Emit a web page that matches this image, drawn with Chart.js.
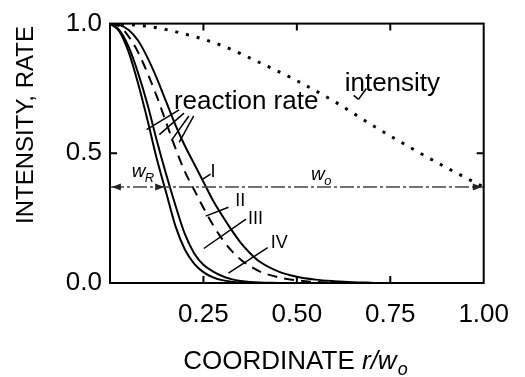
<!DOCTYPE html>
<html>
<head>
<meta charset="utf-8">
<script src="https://cdn.jsdelivr.net/npm/chart.js@4/dist/chart.umd.min.js"></script>
<style>
  html, body { margin: 0; padding: 0; background: #fff; }
  #wrap { width: 525px; height: 377px; position: relative; }
</style>
</head>
<body>
<div id="wrap"><canvas id="chart"></canvas></div>
<script>
/* reaction rate / intensity profiles vs r/w_o */

const rateX  = [0, 0.025, 0.05, 0.075, 0.1, 0.125, 0.15, 0.175, 0.2, 0.225, 0.25, 0.275, 0.3, 0.325, 0.35, 0.375, 0.4, 0.45, 0.5, 0.55, 0.6, 0.65, 0.7];
const rateI   = [1, 0.995, 0.975, 0.935, 0.87, 0.79, 0.70, 0.61, 0.53, 0.46, 0.39, 0.32, 0.26, 0.205, 0.155, 0.115, 0.083, 0.045, 0.024, 0.013, 0.007, 0.003, 0.001];
const rateII  = [1, 0.99, 0.95, 0.89, 0.81, 0.72, 0.62, 0.52, 0.43, 0.36, 0.29, 0.225, 0.17, 0.125, 0.09, 0.065, 0.045, 0.022, 0.01, 0.004, 0.001];
const rateIII = [1, 0.975, 0.91, 0.81, 0.69, 0.55, 0.42, 0.30, 0.19, 0.115, 0.07, 0.045, 0.027, 0.015, 0.008, 0.004, 0.002, 0];
const rateIV  = [1, 0.97, 0.89, 0.77, 0.63, 0.48, 0.35, 0.22, 0.13, 0.075, 0.042, 0.022, 0.011, 0.005, 0.002, 0.001, 0];

const intensityX = [0, 0.1, 0.2, 0.3, 0.4, 0.5, 0.6, 0.7, 0.8, 0.9, 1.0];
const intensity  = [1.0, 0.99, 0.96, 0.915, 0.85, 0.78, 0.70, 0.61, 0.525, 0.445, 0.37];

const levelX = [0, 1];
const level  = [0.37, 0.37];
const wR = 0.145;

const xTicks = [0.25, 0.5, 0.75, 1.0];
const yTicks = [0, 0.5, 1.0];

const FONT = '"Liberation Sans", Arial, sans-serif';
const pts = (xs, ys) => ys.map((v, i) => ({ x: xs[i], y: v }));

function line(data, extra) {
  return Object.assign({
    data,
    borderColor: '#000',
    borderWidth: 2,
    pointRadius: 0,
    fill: false,
    cubicInterpolationMode: 'monotone'
  }, extra || {});
}

const annot = {
  id: 'annot',
  afterDraw(chart) {
    const { ctx, chartArea: a, scales: { x, y } } = chart;
    const px = v => x.getPixelForValue(v);
    const py = v => y.getPixelForValue(v);
    ctx.save();

    // frame + inward ticks
    ctx.strokeStyle = '#000';
    ctx.lineWidth = 2;
    ctx.strokeRect(a.left, a.top, a.right - a.left, a.bottom - a.top);
    ctx.beginPath();
    [0.25, 0.5, 0.75].forEach(v => {
      ctx.moveTo(px(v), a.bottom); ctx.lineTo(px(v), a.bottom - 7);
      ctx.moveTo(px(v), a.top); ctx.lineTo(px(v), a.top + 7);
    });
    ctx.moveTo(a.left, py(0.5)); ctx.lineTo(a.left + 7, py(0.5));
    ctx.moveTo(a.right, py(0.5)); ctx.lineTo(a.right - 7, py(0.5));
    ctx.stroke();

    // arrowheads on the 1/e level
    const head = (xv, dir) => {
      const tx = px(xv), ty = py(level[0]);
      ctx.beginPath();
      ctx.moveTo(tx, ty);
      ctx.lineTo(tx - dir * 9, ty - 3.5);
      ctx.lineTo(tx - dir * 9, ty + 3.5);
      ctx.closePath();
      ctx.fillStyle = '#222';
      ctx.fill();
    };
    head(0.005, -1);
    head(wR, 1);
    head(0.995, 1);

    // pointer lines
    ctx.lineWidth = 1.5;
    const seg = (x1, y1, x2, y2) => {
      ctx.beginPath();
      ctx.moveTo(px(x1), py(y1));
      ctx.lineTo(px(x2), py(y2));
      ctx.stroke();
    };
    seg(0.185, 0.667, 0.098, 0.591);
    seg(0.198, 0.655, 0.132, 0.572);
    seg(0.211, 0.644, 0.164, 0.549);
    seg(0.224, 0.644, 0.185, 0.542);
    seg(0.245, 0.398, 0.269, 0.42);
    seg(0.256, 0.258, 0.317, 0.292);
    seg(0.251, 0.133, 0.364, 0.246);
    seg(0.317, 0.038, 0.422, 0.136);
    seg(0.686, 0.75, 0.665, 0.708);
    seg(0.665, 0.708, 0.652, 0.723);

    // text labels
    ctx.fillStyle = '#000';
    ctx.textBaseline = 'alphabetic';
    ctx.textAlign = 'left';
    ctx.font = '26px ' + FONT;
    ctx.fillText('reaction rate', px(0.171), py(0.67));
    ctx.fillText('intensity', px(0.628), py(0.739));

    ctx.font = '18px ' + FONT;
    ctx.fillText('I', px(0.269), py(0.409));
    ctx.fillText('II', px(0.335), py(0.295));
    ctx.fillText('III', px(0.369), py(0.227));
    ctx.fillText('IV', px(0.43), py(0.133));

    ctx.font = 'italic 19px ' + FONT;
    ctx.fillText('w', px(0.058), py(0.409));
    ctx.fillText('w', px(0.538), py(0.398));
    ctx.font = 'italic 13px ' + FONT;
    ctx.fillText('R', px(0.093), py(0.39));
    ctx.fillText('o', px(0.573), py(0.379));

    // y title
    ctx.save();
    ctx.translate(26, 125);
    ctx.rotate(-Math.PI / 2);
    ctx.textAlign = 'center';
    ctx.textBaseline = 'middle';
    ctx.font = '24px ' + FONT;
    ctx.fillText('INTENSITY, RATE', 0, 0);
    ctx.restore();

    // x title
    const t1 = 'COORDINATE ', t2 = 'r/w', t3 = 'o';
    ctx.font = '26px ' + FONT;
    const w1 = ctx.measureText(t1).width;
    ctx.font = 'italic 26px ' + FONT;
    const w2 = ctx.measureText(t2).width;
    ctx.font = 'italic 18px ' + FONT;
    const w3 = ctx.measureText(t3).width;
    let sx = 295 - (w1 + w2 + w3) / 2;
    const base = 369;
    ctx.font = '26px ' + FONT;
    ctx.fillText(t1, sx, base);
    ctx.font = 'italic 26px ' + FONT;
    ctx.fillText(t2, sx + w1, base);
    ctx.font = 'italic 18px ' + FONT;
    ctx.fillText(t3, sx + w1 + w2 + 1, base + 6);

    ctx.restore();
  }
};

new Chart(document.getElementById('chart'), {
  type: 'line',
  data: {
    datasets: [
      line(pts(intensityX, intensity), { borderWidth: 3, borderDash: [3, 8], cubicInterpolationMode: 'monotone' }),
      line(pts(levelX, level), { borderWidth: 1.3, borderColor: '#444', borderDash: [14, 3, 3, 3], cubicInterpolationMode: 'default', tension: 0 }),
      line(pts(rateX, rateI)),
      line(pts(rateX, rateII), { borderDash: [10, 7] }),
      line(pts(rateX, rateIII)),
      line(pts(rateX, rateIV))
    ]
  },
  options: {
    responsive: true,
    maintainAspectRatio: false,
    animation: false,
    layout: { padding: { top: 19, right: 36, left: 0, bottom: 0 } },
    plugins: { legend: { display: false }, tooltip: { enabled: false } },
    scales: {
      x: {
        type: 'linear',
        min: 0, max: 1,
        afterFit: s => { s.height = 94; },
        afterBuildTicks: s => { s.ticks = xTicks.map(v => ({ value: v })); },
        grid: { display: false, drawTicks: false },
        border: { display: false },
        ticks: {
          color: '#000',
          padding: 16,
          font: { family: FONT, size: 26 },
          callback: v => v.toFixed(2)
        }
      },
      y: {
        type: 'linear',
        min: 0, max: 1,
        afterFit: s => { s.width = 110; },
        afterBuildTicks: s => { s.ticks = yTicks.map(v => ({ value: v })); },
        grid: { display: false, drawTicks: false },
        border: { display: false },
        ticks: {
          color: '#000',
          padding: 8,
          font: { family: FONT, size: 26 },
          callback: v => v.toFixed(1)
        }
      }
    }
  },
  plugins: [annot]
});
</script>
</body>
</html>
